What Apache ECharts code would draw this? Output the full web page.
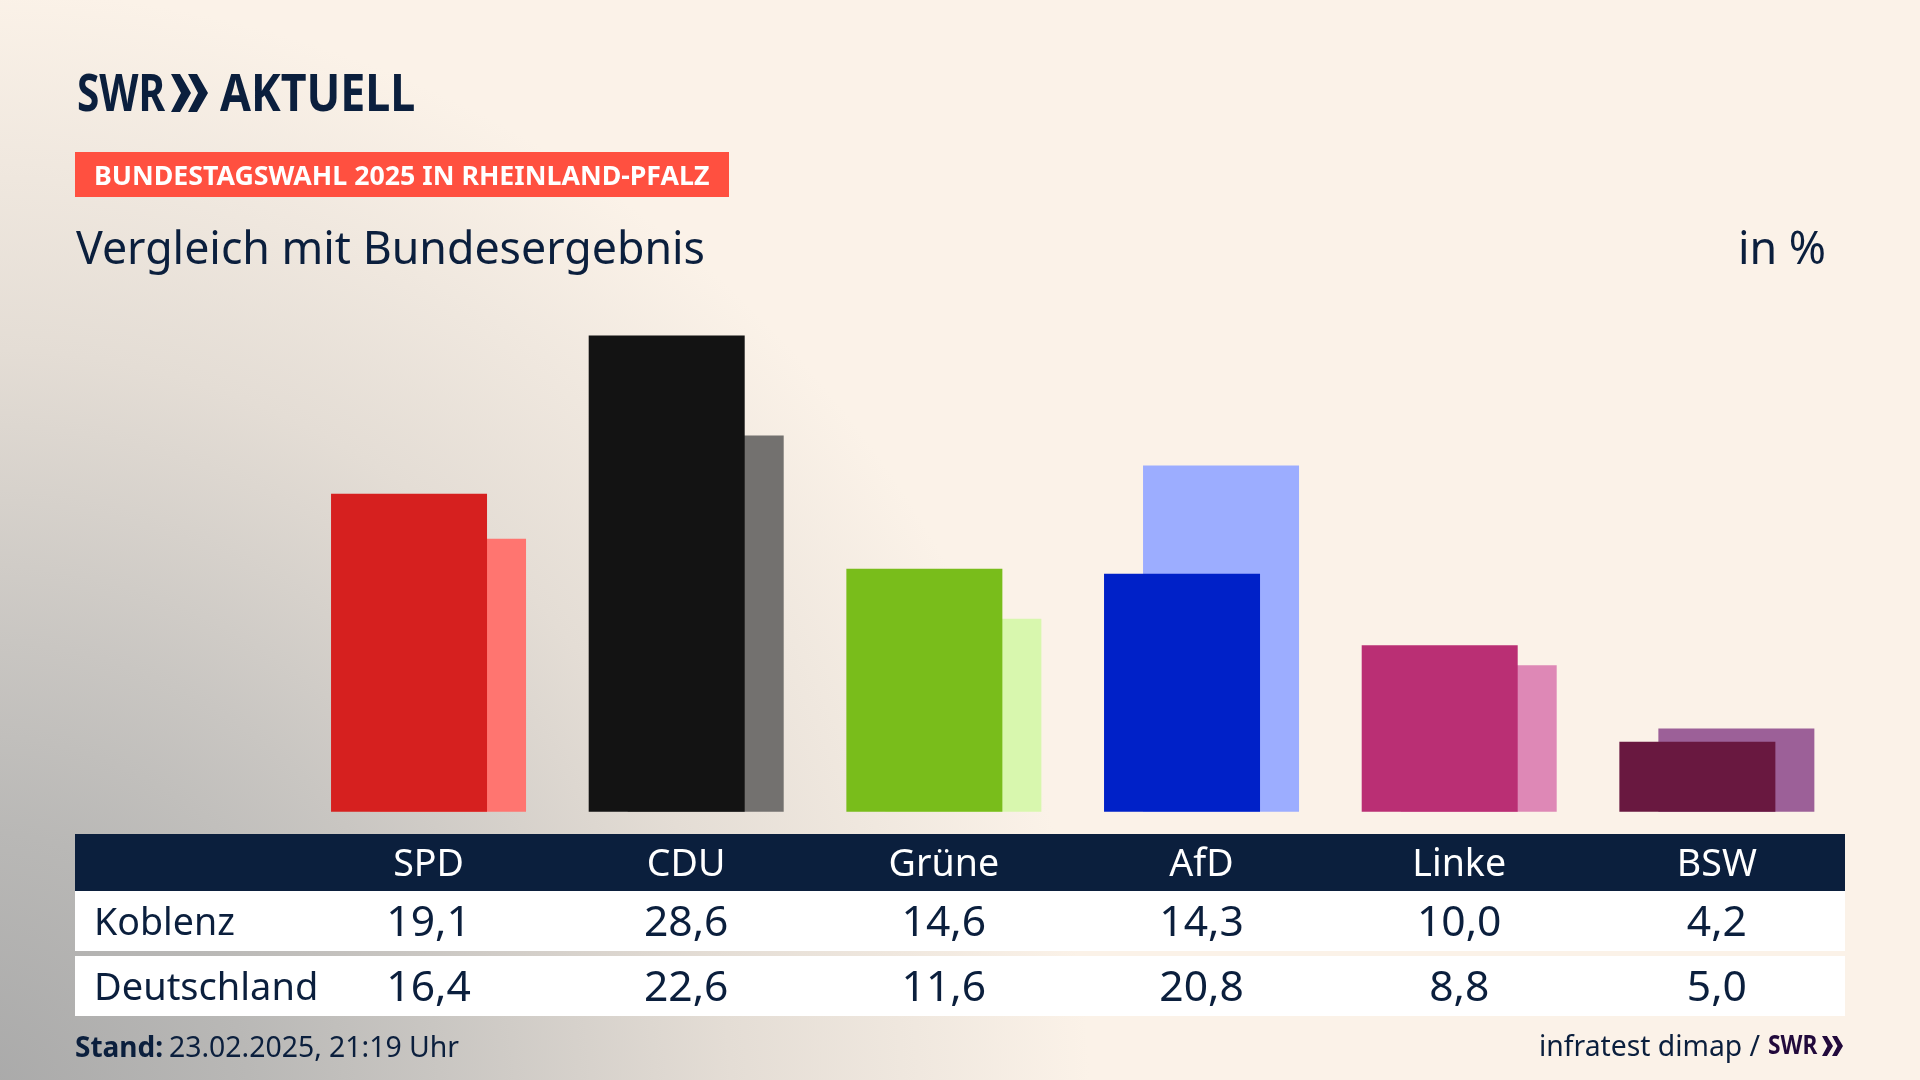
<!DOCTYPE html>
<html>
<head>
<meta charset="utf-8">
<style>
    html, body { margin: 0; padding: 0; background: #faf2e7; }
    #chart { width: 1920px; height: 1080px; }
</style>
<script src="https://cdn.jsdelivr.net/npm/echarts@6/dist/echarts.min.js"></script>
</head>
<body>
<div id="chart"></div>
<script>
(function() {
    'use strict';

    var navy = '#0b1f3d';
    var font = '"Noto Sans"';

    var parties = [
        { name: 'SPD',   koblenz: 19.1, deutschland: 16.4, dark: '#d6201f', light: '#ff7570' },
        { name: 'CDU',   koblenz: 28.6, deutschland: 22.6, dark: '#131313', light: '#73716f' },
        { name: 'Grüne', koblenz: 14.6, deutschland: 11.6, dark: '#79bd1b', light: '#d8f7ae' },
        { name: 'AfD',   koblenz: 14.3, deutschland: 20.8, dark: '#0021c8', light: '#9cadff' },
        { name: 'Linke', koblenz: 10.0, deutschland: 8.8,  dark: '#ba2f74', light: '#de88b6' },
        { name: 'BSW',   koblenz: 4.2,  deutschland: 5.0,  dark: '#691840', light: '#9c6098' }
    ];

    function fmt(v) {
        return v.toFixed(1).replace('.', ',');
    }

    function tableAxis(data, offset, color, size) {
        return {
            type: 'category',
            position: 'bottom',
            offset: offset,
            data: data,
            z: 10,
            axisLine: { show: false },
            axisTick: { show: false },
            axisLabel: { color: color, fontFamily: font, fontSize: size, margin: 0, interval: 0, verticalAlign: 'middle', lineHeight: 44 }
        };
    }

    function rect(x, y, w, h, fill) {
        return { type: 'rect', z: -1, shape: { x: x, y: y, width: w, height: h }, style: { fill: fill } };
    }

    function text(x, y, str, size, color, extra) {
        extra = extra || {};
        var el = {
            type: 'text', x: x, y: y, z: 5,
            style: { text: str, fill: color, font: (extra.weight || 'normal') + ' ' + size + 'px ' + font, textVerticalAlign: 'middle', textAlign: extra.align || 'left' }
        };
        if (extra.scaleX) { el.scaleX = extra.scaleX; }
        return el;
    }

    // the two arrows of the SWR logo
    function chevrons(x, y, w, h, gap, color) {
        var list = [];
        for (var i = 0; i < 2; i++) {
            var x0 = x + i * gap;
            list.push({
                type: 'polygon', z: 5,
                shape: { points: [[x0, y], [x0 + w * 0.45, y], [x0 + w, y + h / 2], [x0 + w * 0.45, y + h], [x0, y + h], [x0 + w * 0.5, y + h / 2]] },
                style: { fill: color }
            });
        }
        return list;
    }

    var graphics = [
        rect(75, 834, 1770, 57, navy),
        rect(75, 891, 1770, 60, '#ffffff'),
        rect(75, 956, 1770, 60, '#ffffff'),
        rect(75, 152, 654, 45, '#ff5040'),
        text(77, 96, 'SWR', 52, navy, { weight: 'bold', scaleX: 0.78 }),
        text(220, 96, 'AKTUELL', 52, navy, { weight: 'bold', scaleX: 0.86 }),
        text(94, 177, 'BUNDESTAGSWAHL 2025 IN RHEINLAND-PFALZ', 27, '#ffffff', { weight: 'bold', scaleX: 0.99 }),
        text(76, 251, 'Vergleich mit Bundesergebnis', 44.7, navy),
        text(1826, 251, 'in %', 44.8, navy, { align: 'right' }),
        text(94, 924, 'Koblenz', 37.6, navy),
        text(94, 989, 'Deutschland', 38, navy),
        text(75, 1049, 'Stand:', 28, navy, { weight: 'bold' }),
        text(169, 1049, '23.02.2025, 21:19 Uhr', 28.4, navy),
        text(1539, 1048, 'infratest dimap /', 28.3, navy),
        text(1768, 1046, 'SWR', 27, '#220a3c', { weight: 'bold', scaleX: 0.84 })
    ].concat(chevrons(171, 74, 20, 38, 17, navy), chevrons(1822, 1036, 11, 20, 10, '#220a3c'));

    var chart = echarts.init(document.getElementById('chart'), null, { renderer: 'canvas' });
    chart.setOption({
        animation: false,
        backgroundColor: new echarts.graphic.RadialGradient(-30, 1110, 1120, [
            { offset: 0, color: '#a8a8a8' },
            { offset: 0.25, color: '#b9b8b6' },
            { offset: 0.42, color: '#c9c6c2' },
            { offset: 0.68, color: '#e4ddd5' },
            { offset: 1, color: '#fbf2e8' }
        ], true),
        grid: { left: 299.7, width: 1546, top: 312.3, height: 499.5 },
        xAxis: [
            tableAxis(parties.map(function(p) { return p.name; }), 53.5, '#ffffff', 37.6),
            tableAxis(parties.map(function(p) { return fmt(p.koblenz); }), 112.5, navy, 42.6),
            tableAxis(parties.map(function(p) { return fmt(p.deutschland); }), 177.5, navy, 42.6)
        ],
        yAxis: { type: 'value', min: 0, max: 30, show: false },
        series: [
            {
                name: 'Koblenz',
                type: 'bar',
                barWidth: 156,
                barGap: '-75%',
                z: 3,
                data: parties.map(function(p) { return { value: p.koblenz, itemStyle: { color: p.dark } }; })
            },
            {
                name: 'Deutschland',
                type: 'bar',
                barWidth: 156,
                barGap: '-75%',
                z: 2,
                data: parties.map(function(p) { return { value: p.deutschland, itemStyle: { color: p.light } }; })
            }
        ],
        graphic: { elements: graphics }
    });
})();
</script>
</body>
</html>
